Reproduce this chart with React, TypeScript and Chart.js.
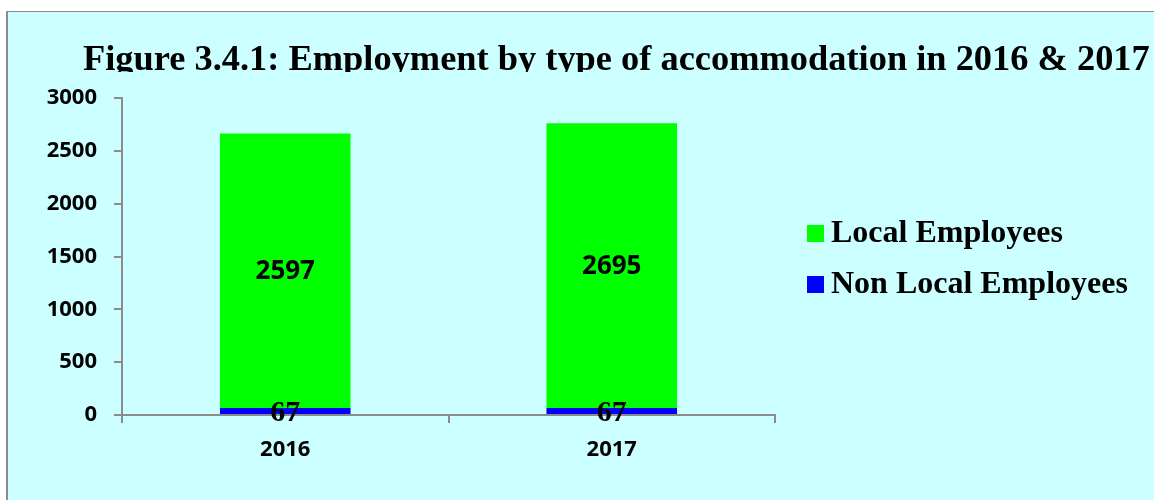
import { useEffect, useRef } from "react";
import { Chart, registerables } from "chart.js";
Chart.register(...registerables);

const categories = ["2016", "2017"];
const localEmployees = [2597, 2695];
const nonLocalEmployees = [67, 67];
const seriesNames = ["Local Employees", "Non Local Employees"];
const seriesColors = ["#00FF00", "#0000FF"];
const yMin = 0;
const yMax = 3000;
const yStep = 500;
const titleText = "Figure 3.4.1: Employment by type of accommodation in 2016 & 2017";

const SANS = "'Open Sans', 'DejaVu Sans', sans-serif";
const SERIF = "'Liberation Serif', 'DejaVu Serif', serif";
const AXIS = "#8c8c8c";

const overlay = {
  id: "overlay",
  afterDatasetsDraw(chart: any) {
    const ctx = chart.ctx;
    const fonts = [`bold 30px ${SERIF}`, `bold 26px ${SANS}`];
    chart.data.datasets.forEach((ds: any, i: number) => {
      const meta = chart.getDatasetMeta(i);
      meta.data.forEach((el: any, j: number) => {
        const p = el.getProps(["x", "y", "base"], true);
        ctx.save();
        ctx.font = fonts[i];
        ctx.fillStyle = "#000";
        ctx.textAlign = "center";
        ctx.textBaseline = "middle";
        ctx.fillText(String(ds.data[j]), p.x, (p.y + p.base) / 2 + (i === 0 ? 2 : 1));
        ctx.restore();
      });
    });
  },
  afterDraw(chart: any) {
    const ctx = chart.ctx;
    // title (clipped at the plot top, as in the original)
    ctx.save();
    ctx.beginPath();
    ctx.rect(0, 0, chart.width, 60);
    ctx.clip();
    ctx.font = `bold 36.4px ${SERIF}`;
    ctx.fillStyle = "#000";
    ctx.textAlign = "left";
    ctx.textBaseline = "alphabetic";
    ctx.fillText(titleText, 75, 58);
    ctx.restore();
    // legend
    const rows = [
      { name: seriesNames[0], color: seriesColors[0], top: 213 },
      { name: seriesNames[1], color: seriesColors[1], top: 264 },
    ];
    ctx.save();
    rows.forEach((r) => {
      ctx.fillStyle = r.color;
      ctx.fillRect(799, r.top, 17, 17);
      ctx.fillStyle = "#000";
      ctx.font = `bold 32px ${SERIF}`;
      ctx.textAlign = "left";
      ctx.textBaseline = "alphabetic";
      ctx.fillText(r.name, 823, r.top + 17);
    });
    ctx.restore();
  },
};

export default function App() {
  const ref = useRef<HTMLCanvasElement>(null);
  useEffect(() => {
    if (!ref.current) return;
    const chart = new Chart(ref.current, {
      type: "bar",
      data: {
        labels: categories,
        datasets: [
          {
            label: seriesNames[1],
            data: nonLocalEmployees,
            backgroundColor: seriesColors[1],
            barPercentage: 0.4,
            categoryPercentage: 1,
          },
          {
            label: seriesNames[0],
            data: localEmployees,
            backgroundColor: seriesColors[0],
            barPercentage: 0.4,
            categoryPercentage: 1,
          },
        ],
      },
      options: {
        responsive: false,
        animation: false,
        layout: { padding: { top: 86, right: 379, bottom: 0, left: 0 } },
        plugins: {
          legend: { display: false },
          title: { display: false },
          tooltip: { enabled: false },
        },
        scales: {
          x: {
            stacked: true,
            offset: true,
            grid: {
              offset: true,
              drawOnChartArea: false,
              drawTicks: true,
              tickLength: 8,
              color: AXIS,
              lineWidth: 2,
            },
            border: { display: true, color: AXIS, width: 2 },
            ticks: {
              color: "#000",
              font: { family: SANS, size: 22, weight: "bold" },
              padding: 14,
            },
            afterFit: (s: any) => {
              s.height = 85;
            },
          },
          y: {
            stacked: true,
            min: yMin,
            max: yMax,
            ticks: {
              stepSize: yStep,
              color: "#000",
              font: { family: SANS, size: 22, weight: "bold" },
              padding: 17,
              callback: (v: any) => String(v),
            },
            grid: {
              drawOnChartArea: false,
              drawTicks: true,
              tickLength: 8,
              color: AXIS,
              lineWidth: 2,
            },
            border: { display: true, color: AXIS, width: 2 },
            afterFit: (s: any) => {
              s.width = 114;
            },
          },
        },
      },
      plugins: [overlay],
    } as any);
    return () => chart.destroy();
  }, []);

  return (
    <div
      style={{
        position: "absolute",
        left: 6,
        top: 11,
        width: 1160,
        height: 500,
        borderLeft: `2px solid ${AXIS}`,
        borderTop: `1px solid ${AXIS}`,
        background: "#CCFFFF",
        overflow: "hidden",
      }}
    >
      <canvas ref={ref} width={1146} height={488} style={{ display: "block" }} />
    </div>
  );
}
